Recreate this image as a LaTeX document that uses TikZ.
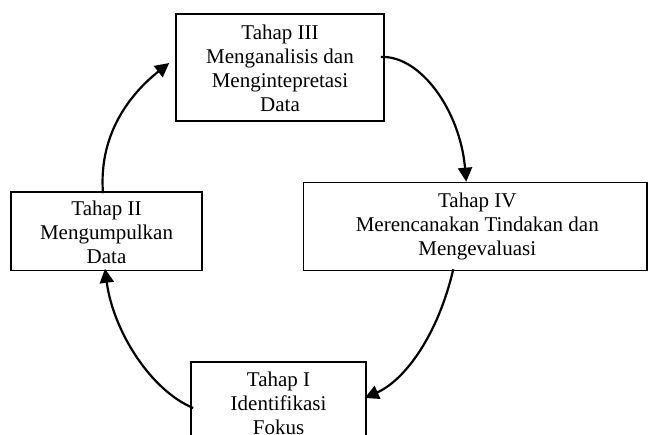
\documentclass[tikz,border=0pt]{standalone}
\usepackage{fontspec}
\setmainfont{Liberation Serif}
\usetikzlibrary{arrows.meta}
\begin{document}
\begin{tikzpicture}[x=1pt,y=-1pt,
  box/.style={draw=black, line width=1.6pt, inner sep=0pt, fill=white},
  txt/.style={align=center, inner sep=0pt, anchor=north, font=\fontsize{21}{24}\selectfont},
  flow/.style={line width=2.2pt, -{Triangle[length=14pt,width=14pt]}}]
\clip (0,0) rectangle (648,434);
\fill[white] (0,0) rectangle (648,434);
% boxes
\node[box, minimum width=208pt, minimum height=107pt] (b3) at (280,67.5) {};
\node[box, minimum width=343.5pt, minimum height=88pt] (b4) at (475.25,226.5) {};
\node[box, minimum width=191pt, minimum height=78.5pt] (b2) at (106.5,231.25) {};
\node[box, minimum width=175pt, minimum height=96pt] (b1) at (278.5,410) {};
% texts
\node[txt] (t3) at ([yshift=-11.5pt]b3.north) {Tahap III\\Menganalisis dan\\Mengintepretasi\\Data};
\node[txt] (t4) at ([xshift=2pt,yshift=-11pt]b4.north) {Tahap IV\\Merencanakan Tindakan dan\\Mengevaluasi};
\node[txt] (t2) at ([yshift=-9.5pt]b2.north) {Tahap II\\Mengumpulkan\\Data};
\node[txt] (t1) at ([yshift=-10.5pt]b1.north) {Tahap I\\Identifikasi\\Fokus};
% connectors
\draw[flow] ([shift={(-3.5,2)}]b2.north) .. controls (98,130) and (135,90) .. ([shift={(-6,-4.5)}]b3.west);
\draw[flow] ([shift={(-4,-10.5)}]b3.east) .. controls (420,55) and (460,110) .. ([shift={(-9,0)}]b4.north);
\draw[flow] ([shift={(-22,-2)}]b4.south) .. controls (438,335) and (405,380) .. ([shift={(-2,-12)}]b1.east);
\draw[flow] ([shift={(3,-2)}]b1.west) .. controls (150,390) and (113,330) .. ([shift={(-1.5,-2.5)}]b2.south);
\end{tikzpicture}
\end{document}
